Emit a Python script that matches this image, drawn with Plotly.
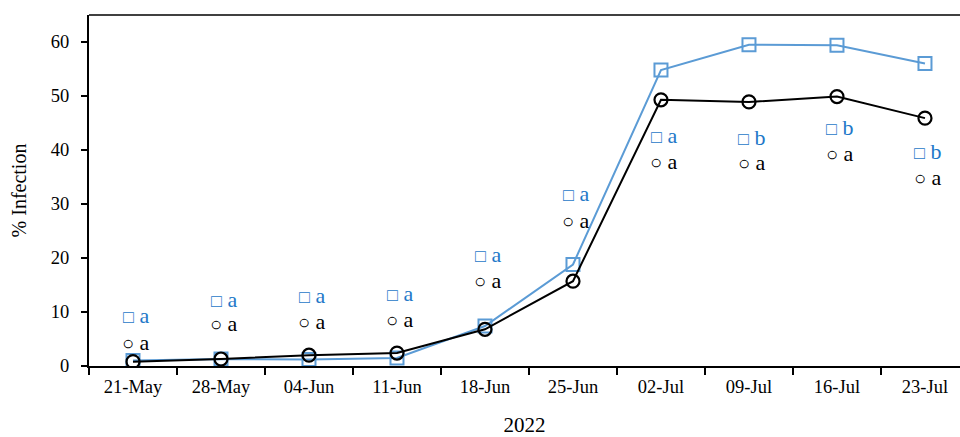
import plotly.graph_objects as go

dates = ["21-May", "28-May", "04-Jun", "11-Jun", "18-Jun",
         "25-Jun", "02-Jul", "09-Jul", "16-Jul", "23-Jul"]

# % infection per sampling date
square_vals = [1.0, 1.3, 1.2, 1.5, 7.4, 18.8, 54.8, 59.5, 59.4, 56.0]
circle_vals = [0.8, 1.3, 2.0, 2.4, 6.8, 15.7, 49.3, 48.9, 49.9, 45.9]

# significance letters and the height they are printed at
square_letters = ["a", "a", "a", "a", "a", "a", "a", "b", "b", "b"]
square_letter_y = [9.3, 12.4, 13.1, 13.5, 20.7, 31.9, 42.6, 42.4, 44.1, 39.8]
circle_letters = ["a", "a", "a", "a", "a", "a", "a", "a", "a", "a"]
circle_letter_y = [4.4, 7.8, 8.3, 8.7, 15.9, 27.0, 37.8, 37.6, 39.3, 35.0]

BLUE_LINE = "#5B9BD5"
BLUE_TEXT = "#1E78C8"
SERIF = "Times New Roman, Liberation Serif, DejaVu Serif, serif"

fig = go.Figure()
fig.add_trace(go.Scatter(
    x=dates, y=square_vals, mode="lines+markers",
    line=dict(color=BLUE_LINE, width=2),
    marker=dict(symbol="square-open", size=13, color=BLUE_LINE,
                line=dict(width=2, color=BLUE_LINE)),
    showlegend=False,
))
fig.add_trace(go.Scatter(
    x=dates, y=circle_vals, mode="lines+markers",
    line=dict(color="black", width=2),
    marker=dict(symbol="circle-open", size=13, color="black",
                line=dict(width=2.2, color="black")),
    showlegend=False,
))

for d, lab, yv in zip(dates, square_letters, square_letter_y):
    fig.add_annotation(x=d, y=yv, xref="x", yref="y", showarrow=False,
                       text=f"<span style='font-size:18px'>□</span> {lab}",
                       font=dict(family=SERIF, size=22, color=BLUE_TEXT),
                       xshift=3)
for d, lab, yv in zip(dates, circle_letters, circle_letter_y):
    fig.add_annotation(x=d, y=yv, xref="x", yref="y", showarrow=False,
                       text=f"<span style='font-size:20px'>○</span> {lab}",
                       font=dict(family=SERIF, size=22, color="black"),
                       xshift=3)

# top frame line
fig.add_shape(type="line", xref="paper", yref="paper", x0=0, x1=1, y0=1, y1=1,
              line=dict(color="black", width=1.5))

fig.update_layout(
    width=960, height=437,
    margin=dict(l=89, r=0, t=15, b=71),
    paper_bgcolor="white", plot_bgcolor="white",
    font=dict(family=SERIF, size=18, color="black"),
    xaxis=dict(
        type="category", range=[-0.5, 9.398], automargin=False,
        showline=True, linecolor="black", linewidth=2,
        ticks="outside", tickson="boundaries", ticklen=7, tickwidth=1.5,
        tickcolor="black", showgrid=False, zeroline=False,
        tickfont=dict(family=SERIF, size=18.5), ticklabelstandoff=3,
        title=dict(text="2022", font=dict(family=SERIF, size=21), standoff=31),
    ),
    yaxis=dict(
        range=[0, 65], tickvals=[0, 10, 20, 30, 40, 50, 60], automargin=False,
        showline=True, linecolor="black", linewidth=2,
        ticks="outside", ticklen=6, tickwidth=1.5, tickcolor="black",
        showgrid=False, zeroline=False,
        tickfont=dict(family=SERIF, size=18.5), ticklabelstandoff=8,
        title=dict(text="% Infection", font=dict(family=SERIF, size=20), standoff=19),
    ),
)

fig.write_html("out.html")
